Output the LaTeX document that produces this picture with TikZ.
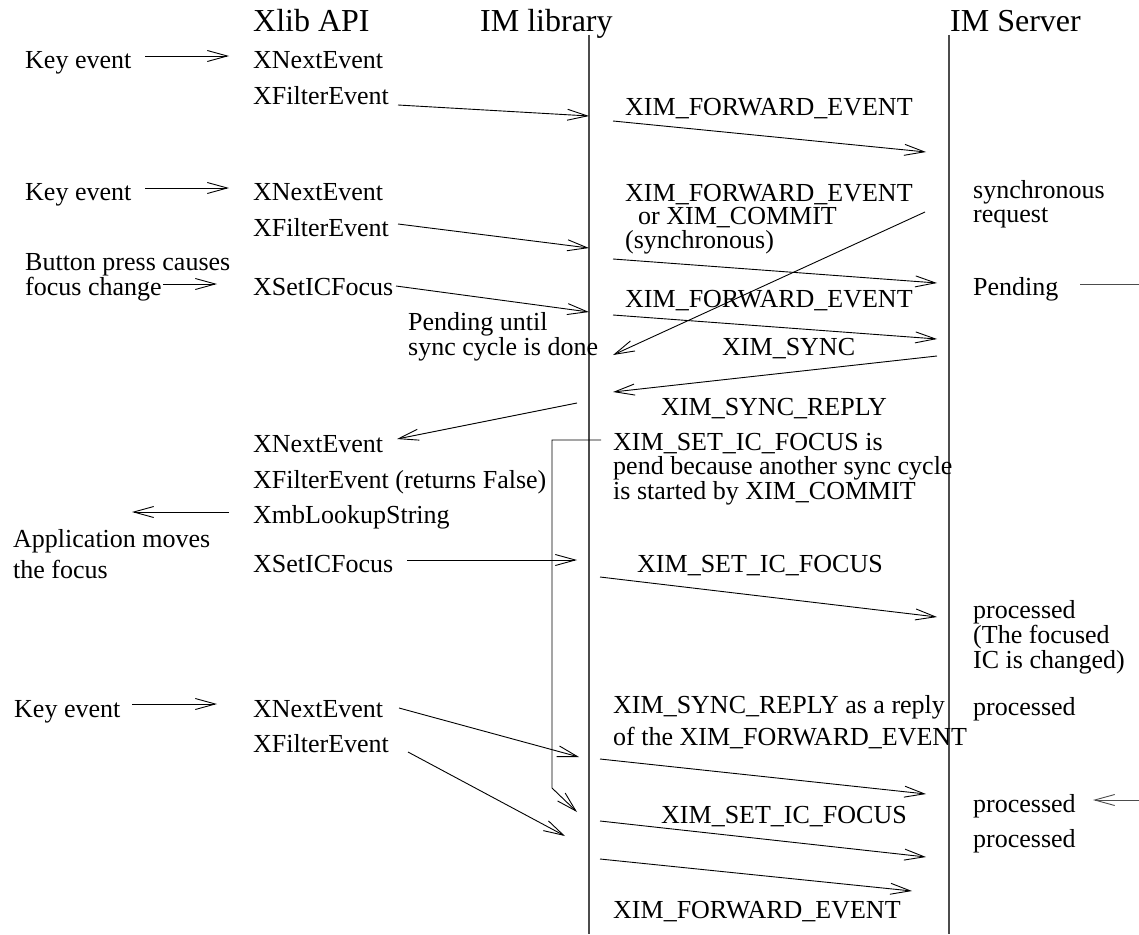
\documentclass[tikz,border=0pt]{standalone}
\usepackage{fontspec}
\setmainfont{Liberation Serif}
\usetikzlibrary{arrows.meta}

\tikzset{
  lbl/.style={anchor=base west, inner sep=0pt, align=left,
    font=\fontsize{26}{23.5}\selectfont},
  ttl/.style={anchor=base west, inner sep=0pt,
    font=\fontsize{32}{32}\selectfont},
  msg/.style={line width=0.9pt, -{Straight Barb[length=20pt,width=11pt,line width=0.9pt]}},
  life/.style={line width=1.2pt, black!70}
}

\begin{document}
\begin{tikzpicture}[x=1pt,y=-1pt]
\useasboundingbox (0,0) rectangle (1139,934);
\node[ttl] (xlib) at (253,32) {Xlib API};
\node[ttl] (imlib) at (480,32) {IM library};
\node[ttl] (imsrv) at (950,32) {IM Server};
\coordinate (libtop) at (589,35);
\coordinate (libbot) at (589,934);
\coordinate (srvtop) at (949,35);
\coordinate (srvbot) at (949,934);
\draw[life] (libtop) -- (libbot);
\draw[life] (srvtop) -- (srvbot);
% first key event
\node[lbl] (key1) at (25,68) {Key event};
\node[lbl] (xne1) at (253,68) {XNextEvent};
\node[lbl] (xfe1) at (253,104) {XFilterEvent};
\node[lbl] (fwd1) at (625,115) {XIM\_FORWARD\_EVENT};
\coordinate (k1a) at (145,56); \coordinate (k1b) at (229,56);
\coordinate (f1a) at (398,105); \coordinate (f1b) at (589,116);
\coordinate (w1a) at (613,121); \coordinate (w1b) at (926,152);
\draw[msg] (k1a) -- (k1b);
\draw[msg] (f1a) -- (f1b);
\draw[msg] (w1a) -- (w1b);
% second key event, focus change
\node[lbl] (key2) at (25,200) {Key event};
\node[lbl] (xne2) at (253,200) {XNextEvent};
\node[lbl] (xfe2) at (253,236) {XFilterEvent};
\node[lbl] (fwd2) at (625,248) {XIM\_FORWARD\_EVENT\\\hspace{13pt}or XIM\_COMMIT\\(synchronous)};
\node[lbl] (syncreq) at (973,222) {synchronous\\request};
\node[lbl] (button) at (25,295) {Button press causes\\focus change};
\node[lbl] (xsf1) at (253,295) {XSetICFocus};
\node[lbl] (pend) at (973,295) {Pending};
\node[lbl] (fwd3) at (625,307) {XIM\_FORWARD\_EVENT};
\node[lbl] (until) at (408,355) {Pending until\\sync cycle is done};
\node[lbl] (ximsync) at (722,355) {XIM\_SYNC};
\node[lbl] (reply1) at (661,415) {XIM\_SYNC\_REPLY};
\coordinate (k2a) at (145,188); \coordinate (k2b) at (229,188);
\coordinate (f2a) at (398,224); \coordinate (f2b) at (589,248);
\coordinate (w2a) at (613,259); \coordinate (w2b) at (937,283);
\coordinate (c1a) at (925,212); \coordinate (c1b) at (613,355);
\coordinate (b1a) at (163,284); \coordinate (b1b) at (217,284);
\coordinate (s1a) at (396,286); \coordinate (s1b) at (589,312);
\coordinate (w3a) at (613,315); \coordinate (w3b) at (937,339);
\coordinate (y1a) at (937,356); \coordinate (y1b) at (613,392);
\coordinate (r1a) at (577,403); \coordinate (r1b) at (397,439);
\coordinate (p1a) at (1080,284); \coordinate (p1b) at (1139,284);
\draw[msg] (k2a) -- (k2b);
\draw[msg] (f2a) -- (f2b);
\draw[msg] (w2a) -- (w2b);
\draw[msg] (c1a) -- (c1b);
\draw[msg] (b1a) -- (b1b);
\draw[msg] (s1a) -- (s1b);
\draw[msg] (w3a) -- (w3b);
\draw[msg] (y1a) -- (y1b);
\draw[msg] (r1a) -- (r1b);
\draw[line width=0.9pt, black!70] (p1a) -- (p1b);
% pending focus
\node[lbl] (xne3) at (253,452) {XNextEvent};
\node[lbl] (setpend) at (613,499) {XIM\_SET\_IC\_FOCUS is\\pend because another sync cycle\\is started by XIM\_COMMIT};
\node[lbl] (xfe3) at (253,488) {XFilterEvent (returns False)};
\node[lbl] (lookup) at (253,523) {XmbLookupString};
\node[lbl] (app) at (13,578) {Application moves\\[5.5pt]the focus};
\node[lbl] (xsf2) at (253,572) {XSetICFocus};
\node[lbl] (setfoc1) at (637,572) {XIM\_SET\_IC\_FOCUS};
\node[lbl] (proc1) at (973,668) {processed\\(The focused\\IC is changed)};
\coordinate (l1a) at (229,512); \coordinate (l1b) at (132,512);
\coordinate (s2a) at (407,560); \coordinate (s2b) at (577,560);
\coordinate (i1a) at (600,577); \coordinate (i1b) at (937,617);
\draw[msg] (l1a) -- (l1b);
\draw[msg] (s2a) -- (s2b);
\draw[msg] (i1a) -- (i1b);
% bracket
\coordinate (bra) at (601,440);
\coordinate (brb) at (552,440);
\coordinate (brc) at (552,788);
\coordinate (brd) at (577,812);
\draw[msg] (bra) -- (brb) -- (brc) -- (brd);
% third key event
\node[lbl] (key3) at (14,717) {Key event};
\node[lbl] (xne4) at (253,717) {XNextEvent};
\node[lbl] (xfe4) at (253,752) {XFilterEvent};
\node[lbl] (replyof) at (613,745) {XIM\_SYNC\_REPLY as a reply\\[6.5pt]of the XIM\_FORWARD\_EVENT};
\node[lbl] (proc2) at (973,715) {processed};
\node[lbl] (proc3) at (973,812) {processed};
\node[lbl] (setfoc2) at (661,823) {XIM\_SET\_IC\_FOCUS};
\node[lbl] (proc4) at (973,847) {processed};
\node[lbl] (fwd4) at (613,918) {XIM\_FORWARD\_EVENT};
\coordinate (k3a) at (132,704); \coordinate (k3b) at (217,704);
\coordinate (n4a) at (399,708); \coordinate (n4b) at (579,757);
\coordinate (f4a) at (408,752); \coordinate (f4b) at (565,836);
\coordinate (w4a) at (600,759); \coordinate (w4b) at (926,794);
\coordinate (i2a) at (600,821); \coordinate (i2b) at (926,857);
\coordinate (w5a) at (600,859); \coordinate (w5b) at (912,891);
\coordinate (e1a) at (1139,800); \coordinate (e1b) at (1093,800);
\draw[msg] (k3a) -- (k3b);
\draw[msg] (n4a) -- (n4b);
\draw[msg] (f4a) -- (f4b);
\draw[msg] (w4a) -- (w4b);
\draw[msg] (i2a) -- (i2b);
\draw[msg] (w5a) -- (w5b);
\draw[msg, black!70] (e1a) -- (e1b);
\end{tikzpicture}
\end{document}
